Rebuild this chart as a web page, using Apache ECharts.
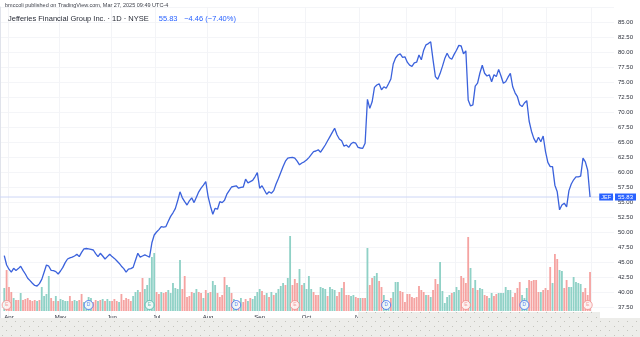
<!DOCTYPE html>
<html>
<head>
<meta charset="utf-8">
<script src="https://cdn.jsdelivr.net/npm/echarts/dist/echarts.min.js"></script>
<style>
  html, body { margin: 0; padding: 0; background: #ffffff; }
  #chart { width: 640px; height: 337px; }
</style>
</head>
<body>
<div id="chart"></div>
<script>
// Jefferies Financial Group (JEF), daily closes and volume, 27 Mar 2024 - 27 Mar 2025

const ticker = 'JEF';
const headerLine1 = 'bmccoli published on TradingView.com, Mar 27, 2025 09:49 UTC-4';
const headerName = 'Jefferies Financial Group Inc. · 1D · NYSE';
const headerChange = '−4.46 (−7.40%)';

// NYSE closures inside the period
const holidays = ['2024-03-29', '2024-05-27', '2024-06-19', '2024-07-04', '2024-09-02',
  '2024-11-28', '2024-12-25', '2025-01-01', '2025-01-09', '2025-01-20', '2025-02-17'];

const monthNames = ['Jan', 'Feb', 'Mar', 'Apr', 'May', 'Jun', 'Jul', 'Aug', 'Sep', 'Oct', 'Nov', 'Dec'];

// closing prices (USD), one per session
const closes = [
  46.05, 44.5, 43.8, 43.3, 43.95, 43.6, 43.9, 44.3, 43.6, 43.0,
  42.3, 41.9, 41.45, 41.1, 41.0, 41.4, 42.1, 43.3, 44.5, 44.3,
  43.6, 43.55, 43.4, 43.0, 43.5, 44.1, 44.9, 45.5, 45.7, 45.8,
  46.0, 46.3, 45.9, 46.6, 47.2, 47.25, 47.2, 47.1, 47.0, 46.4,
  45.9, 46.45, 46.0, 45.5, 45.9, 46.3, 45.9, 45.6, 45.2, 44.8,
  44.3, 43.9, 43.3, 43.8, 43.9, 44.1, 45.3, 46.45, 45.8, 46.0,
  46.2, 46.0, 45.8, 48.2, 49.5, 50.0, 50.4, 50.9, 50.8, 50.9,
  51.8, 52.6, 53.2, 53.9, 55.2, 56.7, 55.7, 55.05, 54.5, 55.2,
  55.7, 54.9, 55.8, 56.7, 57.3, 57.8, 58.4, 55.9, 54.3, 52.95,
  53.95, 53.8, 55.05, 54.9, 55.3, 56.3, 56.9, 57.5, 57.6, 57.7,
  57.3, 57.45, 57.5, 58.8, 58.2, 58.4, 58.6, 59.2, 59.9, 57.3,
  57.7, 57.0, 56.3, 56.7, 56.45, 56.9, 58.0, 58.9, 59.9, 60.9,
  61.8, 62.3, 62.4, 62.45, 62.3, 61.8, 61.2, 61.5, 61.7, 62.0,
  62.4, 62.9, 63.4, 63.5, 63.7, 63.3, 63.9, 64.5, 65.2, 65.9,
  66.6, 67.3, 66.2, 65.5, 65.2, 64.3, 64.5, 64.1, 64.7, 64.95,
  64.8, 64.1, 64.0, 63.95, 64.8, 72.1, 70.6, 71.7, 74.1, 74.5,
  74.7, 73.7, 74.2, 73.95, 74.7, 75.5, 78.0, 79.0, 79.5, 79.7,
  79.1, 79.2, 78.3, 77.8, 77.6, 78.2, 78.3, 79.5, 78.7, 80.3,
  81.2, 81.4, 81.7, 78.7, 75.9, 75.45, 76.4, 77.6, 78.9, 79.8,
  79.05, 78.8, 79.6, 80.3, 81.1, 81.0, 79.7, 80.2, 72.0, 71.0,
  71.2, 74.3, 74.8, 76.5, 77.8, 76.45, 76.0, 76.2, 75.05, 76.2,
  75.9, 77.1, 76.0, 74.8, 75.05, 75.8, 76.45, 74.2, 73.2, 72.55,
  71.2, 70.9, 71.5, 71.9, 68.5, 66.8, 65.6, 64.9, 65.8, 65.05,
  66.0, 63.4, 61.6, 60.9, 60.9, 57.8, 56.7, 53.7, 54.5, 54.8,
  54.2, 56.9, 58.0, 58.7, 59.2, 59.2, 59.3, 62.3, 61.7, 60.29,
  55.83
];

// session volume, millions of shares
const volumes = [
  2.3, 4.1, 2.4, 1.9, 1.3, 1.1, 1.1, 1.8, 1.1, 1.2,
  1.3, 1.1, 1.0, 1.1, 1.0, 1.1, 2.4, 1.5, 1.7, 3.5,
  1.3, 1.0, 1.5, 1.0, 1.2, 1.1, 1.0, 1.0, 1.5, 1.0,
  1.1, 1.0, 1.1, 1.7, 0.9, 1.0, 1.4, 1.3, 0.9, 1.1,
  1.0, 1.1, 1.2, 1.0, 1.2, 1.0, 1.0, 1.2, 1.0, 0.9,
  1.7, 1.1, 1.3, 1.2, 1.0, 1.5, 1.9, 2.1, 1.9, 3.3,
  2.2, 2.6, 3.3, 5.4, 5.8, 1.9, 1.7, 1.9, 1.8, 1.9,
  2.1, 1.8, 2.8, 2.3, 2.2, 5.1, 2.2, 3.5, 1.4, 1.5,
  1.9, 1.8, 2.2, 1.9, 1.8, 1.3, 2.1, 1.8, 1.9, 3.0,
  2.6, 1.8, 1.4, 1.6, 3.4, 2.6, 2.4, 1.8, 1.2, 0.9,
  1.0, 1.3, 0.9, 1.2, 1.0, 1.3, 1.2, 1.5, 1.9, 2.2,
  2.0, 1.6, 1.8, 1.4, 1.9, 1.6, 1.8, 2.2, 2.5, 2.8,
  2.6, 3.3, 7.5, 2.6, 3.2, 2.8, 4.2, 2.6, 2.8, 2.2,
  3.5, 2.2, 1.9, 1.6, 1.6, 2.4, 2.3, 2.2, 1.5, 2.4,
  2.2, 2.1, 1.5, 1.9, 2.3, 2.9, 1.6, 1.6, 1.5, 1.6,
  1.4, 1.3, 1.3, 1.3, 1.3, 6.3, 2.6, 3.3, 3.5, 3.8,
  3.0, 2.4, 1.6, 1.0, 0.8, 1.3, 1.9, 2.9, 2.9, 2.0,
  1.9, 0.9, 1.7, 1.7, 1.4, 1.3, 1.4, 2.5, 2.1, 1.9,
  1.6, 1.6, 1.4, 2.1, 3.2, 2.7, 4.9, 2.0, 0.8, 1.4,
  1.6, 1.8, 1.9, 2.4, 2.1, 3.5, 3.3, 2.8, 7.4, 4.3,
  2.3, 3.1, 2.1, 2.3, 2.2, 1.6, 1.5, 1.3, 1.8, 1.5,
  1.7, 1.8, 1.8, 1.8, 2.4, 2.1, 2.1, 1.4, 1.8, 2.3,
  2.9, 1.6, 1.3, 2.3, 3.1, 3.0, 3.1, 3.1, 1.9, 1.9,
  2.1, 2.3, 2.1, 4.4, 2.8, 5.7, 5.2, 4.1, 4.0, 2.3,
  3.1, 2.4, 2.4, 3.4, 2.9, 2.8, 2.7, 1.9, 2.3, 1.6,
  3.9
];

// 1 = session closed above its open, 0 = below
const sessionUp = [
  1, 0, 0, 0, 1, 0, 0, 1, 0, 0, 0, 0, 0, 0, 1, 0, 1, 1, 1, 1, 0, 0, 1, 0, 1,
  1, 1, 1, 0, 0, 1, 1, 0, 0, 1, 1, 1, 1, 0, 0, 1, 0, 1, 0, 1, 1, 0, 0, 0, 1,
  0, 0, 0, 0, 0, 1, 1, 1, 0, 0, 1, 1, 1, 1, 1, 0, 0, 1, 0, 0, 1, 1, 1, 1, 1,
  1, 0, 0, 0, 0, 0, 1, 1, 0, 0, 1, 0, 1, 0, 1, 1, 0, 0, 0, 0, 1, 1, 0, 1, 1,
  0, 1, 0, 0, 1, 0, 1, 1, 1, 1, 0, 0, 1, 0, 1, 0, 1, 1, 1, 1, 0, 1, 1, 0, 0,
  0, 1, 0, 1, 1, 1, 1, 0, 0, 0, 1, 1, 1, 0, 1, 1, 1, 0, 0, 1, 0, 0, 0, 1, 1,
  0, 0, 1, 0, 0, 1, 0, 0, 1, 1, 0, 0, 1, 1, 1, 0, 1, 1, 1, 0, 0, 0, 0, 0, 0,
  0, 0, 0, 0, 0, 1, 0, 1, 0, 0, 0, 1, 1, 1, 1, 1, 0, 1, 1, 1, 0, 0, 0, 0, 1,
  0, 1, 0, 1, 1, 0, 0, 1, 1, 0, 0, 1, 1, 1, 1, 1, 1, 0, 0, 0, 0, 1, 1, 1, 0,
  0, 0, 0, 0, 1, 0, 0, 0, 0, 1, 0, 0, 1, 1, 0, 0, 1, 1, 1, 1, 1, 1, 0, 0, 0,
  0
];

// corporate events: session index, kind, and earnings result / dividend
const eventSession = [1, 36, 62, 99, 124, 163, 197, 222, 249];
const eventKind = ['E', 'D', 'E', 'D', 'E', 'D', 'E', 'D', 'E'];
const eventTone = ['miss', 'div', 'beat', 'div', 'miss', 'div', 'miss', 'div', 'miss'];

// price scale ticks
const priceMin = 35, priceMax = 87.5, priceStep = 2.5;

// ---------------------------------------------------------------

function tradingDays() {
  const out = [];
  const d = new Date(Date.UTC(2024, 2, 27));
  const end = Date.UTC(2025, 2, 27);
  while (d.getTime() <= end) {
    const wd = d.getUTCDay();
    const s = d.toISOString().slice(0, 10);
    if (wd !== 0 && wd !== 6 && holidays.indexOf(s) < 0) out.push(s);
    d.setUTCDate(d.getUTCDate() + 1);
  }
  return out;
}
const dates = tradingDays();
const isMonthStart = dates.map((s, i) => i > 0 && s.slice(5, 7) !== dates[i - 1].slice(5, 7));
const lastClose = closes[closes.length - 1];

function monthLabel(v) {
  const m = parseInt(v.slice(5, 7), 10) - 1;
  return m === 0 ? v.slice(0, 4) : monthNames[m];
}

const UP = '#8fd1c6', DOWN = '#f5a3a1', BLUE = '#2962ff', LINE = '#3b62dc';
const toneColor = { miss: '#f08a88', beat: '#4bb7a6', div: '#3d6df0' };
const FONT = '"Liberation Sans", Arial, sans-serif';

// dotted backdrop for the footer band
function dotPattern() {
  const c = document.createElement('canvas');
  c.width = 9; c.height = 9;
  const g = c.getContext('2d');
  g.fillStyle = '#ededea'; g.fillRect(0, 0, 9, 9);
  g.fillStyle = '#c4c4bd';
  g.fillRect(2, 2, 1, 1);
  g.fillRect(6, 6, 1, 1);
  return c;
}
const dots = { image: dotPattern(), repeat: 'repeat' };

const chart = echarts.init(document.getElementById('chart'), null, { renderer: 'canvas' });

const plotL = 3.1, plotR = 48.8, padTop = 7, padBottom = 15;

chart.setOption({
  animation: false,
  backgroundColor: '#ffffff',
  textStyle: { fontFamily: FONT },
  grid: [
    { left: 0, right: 26, top: padTop, bottom: padBottom, outerBoundsMode: 'none', containLabel: false },
    { left: plotL, right: plotR, top: padTop, bottom: padBottom, outerBoundsMode: 'none', containLabel: false },
    { left: plotL, right: plotR, bottom: 26, height: 100, outerBoundsMode: 'none', containLabel: false }
  ],
  xAxis: [
    { type: 'value', gridIndex: 0, min: 0, max: 1, show: false },
    {
      type: 'category', gridIndex: 1, data: dates, boundaryGap: true,
      axisLine: { show: false }, axisTick: { show: false }, axisLabel: { show: false },
      splitLine: { show: true, interval: (i) => isMonthStart[i], lineStyle: { color: '#f3f4f7', width: 1 } }
    },
    {
      type: 'category', gridIndex: 2, data: dates, boundaryGap: true,
      axisLine: { show: false }, axisTick: { show: false }, splitLine: { show: false },
      axisLabel: {
        interval: (i) => isMonthStart[i],
        formatter: monthLabel,
        fontSize: 6, color: '#2a2e39', margin: 3, fontFamily: FONT
      }
    }
  ],
  yAxis: [
    {
      type: 'value', gridIndex: 0, position: 'right', min: priceMin, max: priceMax, interval: priceStep,
      axisLine: { show: true, lineStyle: { color: '#e0e3eb' } }, axisTick: { show: false },
      splitLine: { show: true, lineStyle: { color: '#f4f5f8' } },
      axisLabel: {
        fontSize: 6, color: '#2a2e39', margin: 4, fontFamily: FONT,
        formatter: (v) => (v <= priceMin || v >= priceMax) ? '' : v.toFixed(2)
      }
    },
    { type: 'value', gridIndex: 1, min: priceMin, max: priceMax, show: false },
    { type: 'value', gridIndex: 2, min: 0, max: 10, show: false }
  ],
  series: [
    {
      type: 'line', xAxisIndex: 0, yAxisIndex: 0, silent: true,
      data: [[0, lastClose], [1, lastClose]], symbol: 'none',
      lineStyle: { color: '#cdd6f6', width: 1 }, z: 1,
      markPoint: {
        symbol: 'rect', symbolSize: 0, silent: true,
        data: [
          { coord: [1, lastClose], label: { show: true, position: 'left', distance: 1, formatter: ticker,
            backgroundColor: BLUE, color: '#fff', fontSize: 5.5, padding: [1, 2, 0, 2], fontFamily: FONT } },
          { coord: [1, lastClose], label: { show: true, position: 'right', distance: 1, formatter: lastClose.toFixed(2),
            backgroundColor: BLUE, color: '#fff', fontSize: 6, padding: [1, 3, 0, 3], fontFamily: FONT } }
        ]
      }
    },
    {
      type: 'bar', xAxisIndex: 2, yAxisIndex: 2, barWidth: '78%', silent: true,
      data: volumes.map((v, i) => ({ value: v, itemStyle: { color: sessionUp[i] ? UP : DOWN } })),
      z: 2
    },
    {
      type: 'line', xAxisIndex: 1, yAxisIndex: 1, data: closes, silent: true,
      showSymbol: true, symbol: 'circle',
      symbolSize: (v, p) => (p.dataIndex === closes.length - 1 ? 3 : 0),
      itemStyle: { color: LINE },
      lineStyle: { color: LINE, width: 1.3 }, z: 3
    },
    {
      type: 'scatter', xAxisIndex: 2, yAxisIndex: 2, silent: true, z: 4,
      symbol: 'circle', symbolSize: 9,
      data: eventSession.map((s, k) => ({
        value: [s, 0.6],
        itemStyle: { color: '#ffffff', borderColor: toneColor[eventTone[k]], borderWidth: 1 },
        label: { show: true, position: 'inside', formatter: eventKind[k], fontSize: 5, color: toneColor[eventTone[k]], fontFamily: FONT }
      }))
    }
  ],
  graphic: [
    { type: 'rect', shape: { x: 0, y: 318, width: 640, height: 19 }, style: { fill: dots }, z: 100 },
    { type: 'rect', shape: { x: 358, y: 312, width: 242, height: 8 }, style: { fill: dots }, z: 100 },
    {
      type: 'text', left: 5, top: 2, z: 100,
      style: { text: headerLine1, fontSize: 5.5, fill: '#3b3e48', fontFamily: FONT }
    },
    {
      type: 'text', left: 8, top: 13, z: 100,
      style: {
        text: '{n|' + headerName + '}   {p|' + lastClose.toFixed(2) + '}  {c|' + headerChange + '}',
        rich: {
          n: { fontSize: 7.5, fill: '#2a2e39', fontFamily: FONT },
          p: { fontSize: 7.5, fill: '#2962ff', fontFamily: FONT },
          c: { fontSize: 7.5, fill: '#2962ff', fontFamily: FONT }
        }
      }
    }
  ]
});
</script>
</body>
</html>
